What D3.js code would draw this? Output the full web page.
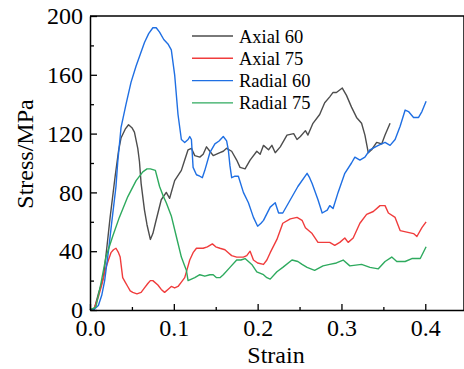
<!DOCTYPE html>
<html>
<head>
<meta charset="utf-8">
<script src="https://cdn.jsdelivr.net/npm/d3@7"></script>
<style>
  body { margin: 0; background: #fff; }
  svg { display: block; }
  svg text { font-family: "Liberation Serif", "Times New Roman", serif; }
</style>
</head>
<body>
<div id="chart"></div>
<script>
// Data: [strain, stress MPa]
var axial60 = [[0,0],[0.005,0.5],[0.010,11],[0.016,22],[0.020,42],[0.024,63],[0.030,91],[0.034,108],[0.037,117],[0.042,123],[0.046,126],[0.050,124],[0.053,121],[0.057,110],[0.059,101],[0.061,86],[0.065,68],[0.068,58],[0.072,48],[0.075,52],[0.078,59],[0.085,75],[0.091,80],[0.095,76],[0.101,88],[0.109,95],[0.113,102],[0.117,109],[0.121,110],[0.125,105],[0.131,104],[0.135,106],[0.139,111],[0.143,108],[0.147,105],[0.151,106],[0.155,107],[0.159,108],[0.163,110],[0.169,108],[0.175,102],[0.179,97],[0.185,96],[0.191,102],[0.199,108],[0.203,106],[0.207,112],[0.213,109],[0.217,112],[0.221,107],[0.227,111],[0.235,119],[0.243,120],[0.247,116],[0.251,118],[0.257,122],[0.260,119],[0.266,127],[0.274,133],[0.280,141],[0.286,145],[0.290,148],[0.294,148],[0.301,151],[0.306,146],[0.312,138],[0.318,131],[0.324,127],[0.328,119],[0.332,107],[0.336,109],[0.342,114],[0.348,113],[0.352,119],[0.358,127]];

var axial75 = [[0,0],[0.005,1],[0.010,9],[0.014,17],[0.018,27],[0.022,34],[0.025,39],[0.028,41],[0.031,42],[0.034,39],[0.036,36],[0.039,22],[0.042,19],[0.045,16],[0.048,13],[0.051,12],[0.056,11],[0.061,12],[0.065,15],[0.069,18],[0.072,20],[0.075,20],[0.081,17],[0.085,14],[0.089,12],[0.093,14],[0.097,16],[0.101,15],[0.105,16],[0.109,19],[0.113,22],[0.116,28],[0.119,34],[0.123,39],[0.127,42],[0.135,42],[0.140,43],[0.146,45],[0.150,43],[0.155,42],[0.161,41],[0.165,39],[0.169,37],[0.175,36],[0.179,36],[0.183,36],[0.187,37],[0.191,40],[0.195,34],[0.200,32],[0.207,31],[0.211,34],[0.215,39],[0.223,48],[0.230,59],[0.239,62],[0.247,63],[0.253,61],[0.257,56],[0.265,52],[0.272,46],[0.278,46],[0.286,46],[0.292,44],[0.298,46],[0.304,49],[0.308,46],[0.314,49],[0.322,59],[0.330,65],[0.338,67],[0.346,71],[0.352,71],[0.356,66],[0.364,63],[0.370,54],[0.378,53],[0.386,52],[0.390,50],[0.396,56],[0.401,60]];

var radial60 = [[0,0],[0.005,0.5],[0.010,3],[0.014,10],[0.0175,20],[0.022,40],[0.026,60],[0.031,84],[0.033,100],[0.037,124],[0.043,140],[0.049,155],[0.055,166],[0.060,174],[0.065,182],[0.070,188],[0.075,192],[0.079,192],[0.083,189],[0.088,184],[0.093,181],[0.097,177],[0.101,160],[0.105,133],[0.109,116],[0.113,114],[0.117,116],[0.119,118],[0.121,116],[0.123,97],[0.127,92],[0.131,91],[0.134,90],[0.137,95],[0.143,107],[0.149,113],[0.154,115],[0.159,118],[0.163,115],[0.165,109],[0.167,98],[0.169,90],[0.173,91],[0.177,91],[0.183,80],[0.189,73],[0.195,63],[0.200,57],[0.204,59],[0.207,61],[0.215,70],[0.221,73],[0.225,66],[0.230,66],[0.239,75],[0.248,84],[0.259,93],[0.262,90],[0.265,86],[0.272,75],[0.277,66],[0.283,68],[0.286,71],[0.290,69],[0.296,80],[0.304,93],[0.312,100],[0.316,104],[0.322,102],[0.328,104],[0.334,109],[0.344,112],[0.352,114],[0.358,112],[0.364,116],[0.370,125],[0.376,136],[0.380,135],[0.386,131],[0.392,131],[0.396,135],[0.401,142]];

var radial75 = [[0,0],[0.007,2],[0.013,18],[0.019,36],[0.027,50],[0.035,63],[0.045,77],[0.055,88],[0.063,94],[0.068,96],[0.072,96],[0.078,95],[0.083,84],[0.087,78],[0.091,73],[0.097,64],[0.103,50],[0.109,36],[0.113,30],[0.115,27],[0.117,20],[0.121,21],[0.125,22],[0.131,24],[0.137,23],[0.143,24],[0.147,24],[0.151,22],[0.155,22],[0.159,24],[0.167,29],[0.175,34],[0.180,34],[0.185,35],[0.193,31],[0.199,26],[0.207,24],[0.211,22],[0.215,21],[0.223,26],[0.230,29],[0.241,34],[0.248,33],[0.253,31],[0.259,29],[0.268,27],[0.278,30],[0.286,31],[0.294,32],[0.302,34],[0.310,30],[0.324,31],[0.334,29],[0.344,28],[0.352,33],[0.360,36],[0.366,33],[0.376,33],[0.384,35],[0.394,35],[0.401,43]];

var seriesNames = ["Axial 60", "Axial 75", "Radial 60", "Radial 75"];
var seriesColors = ["#4d4d4d", "#f03c3c", "#1f6fe3", "#2eaa5e"];
var xTicks = [0, 0.1, 0.2, 0.3, 0.4];
var yTicks = [0, 40, 80, 120, 160, 200];

var W = 464, H = 369;
var mLeft = 90, mRight = 464, mTop = 16, mBottom = 310;

var x = d3.scaleLinear().domain([0, 0.4462]).range([mLeft, mRight]);
var y = d3.scaleLinear().domain([0, 200]).range([mBottom, mTop]);

var svg = d3.select("#chart").append("svg")
  .attr("width", W).attr("height", H);

// Frame top / right
svg.append("line").attr("x1", mLeft).attr("x2", mRight).attr("y1", mTop).attr("y2", mTop)
  .attr("stroke", "#000").attr("stroke-width", 1.5);
svg.append("line").attr("x1", mRight).attr("x2", mRight).attr("y1", mTop).attr("y2", mBottom)
  .attr("stroke", "#000").attr("stroke-width", 1.5);

// Lines
var line = d3.line().x(function(d) { return x(d[0]); }).y(function(d) { return y(d[1]); });
var allData = [axial60, axial75, radial60, radial75];
allData.forEach(function(data, i) {
  svg.append("path")
    .datum(data)
    .attr("d", line)
    .attr("fill", "none")
    .attr("stroke", seriesColors[i])
    .attr("stroke-width", 1.4)
    .attr("stroke-linejoin", "round");
});

// Minor ticks
svg.append("g")
  .attr("transform", "translate(0," + mBottom + ")")
  .call(d3.axisBottom(x).tickValues([0.05, 0.15, 0.25, 0.35]).tickSize(-3).tickFormat(""))
  .call(function(g) { g.select(".domain").remove(); });
svg.append("g")
  .attr("transform", "translate(" + mLeft + ",0)")
  .call(d3.axisLeft(y).tickValues([20, 60, 100, 140, 180]).tickSize(-4).tickFormat(""))
  .call(function(g) { g.select(".domain").remove(); });

// Axes
svg.append("g")
  .attr("transform", "translate(0," + mBottom + ")")
  .call(d3.axisBottom(x).tickValues(xTicks).tickSize(-6).tickSizeOuter(0).tickPadding(9).tickFormat(d3.format(".1f")));
svg.append("g")
  .attr("transform", "translate(" + mLeft + ",0)")
  .call(d3.axisLeft(y).tickValues(yTicks).tickSize(-7).tickSizeOuter(0).tickPadding(7));

svg.selectAll("g").attr("font-family", null);
svg.selectAll(".tick text")
  .style("font-size", "24px")
  .attr("fill", "#000");
svg.selectAll(".domain").attr("stroke-width", 1.5);
svg.selectAll(".tick line").attr("stroke-width", 1.3);

// Axis titles
svg.append("text")
  .attr("x", 276).attr("y", 363)
  .attr("text-anchor", "middle")
  .style("font-size", "24px")
  .text("Strain");
svg.append("text")
  .attr("transform", "translate(33,154) rotate(-90)")
  .attr("text-anchor", "middle")
  .style("font-size", "24px")
  .text("Stress/MPa");

// Legend
var legend = svg.append("g");
seriesNames.forEach(function(name, i) {
  var ly = 36 + i * 22.3;
  legend.append("line")
    .attr("x1", 192).attr("x2", 233).attr("y1", ly).attr("y2", ly)
    .attr("stroke", seriesColors[i]).attr("stroke-width", 1.4);
  legend.append("text")
    .attr("x", 239).attr("y", ly + 6.5)
    .style("font-size", "18.5px")
    .text(name);
});
</script>
</body>
</html>
